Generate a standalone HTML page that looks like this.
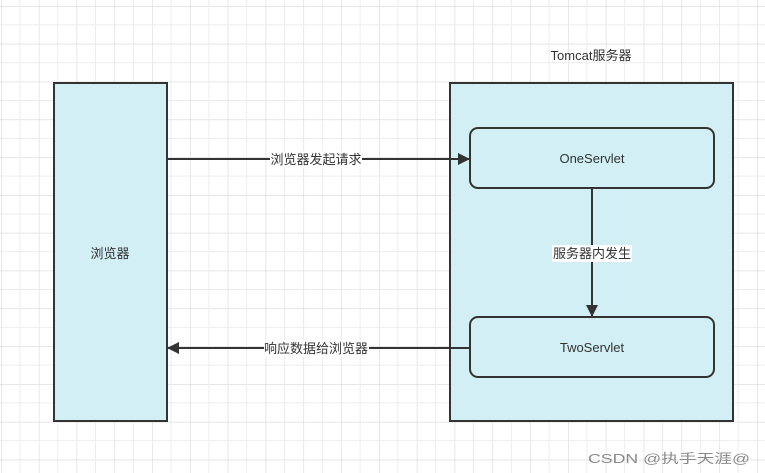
<!DOCTYPE html>
<html><head><meta charset="utf-8"><style>
html,body{margin:0;padding:0;background:#fff}
svg{display:block}
text{font-family:"Liberation Sans","Noto Sans CJK SC",sans-serif;font-size:13px;fill:#333}
</style></head><body>
<svg width="765" height="473" viewBox="0 0 765 473" xmlns="http://www.w3.org/2000/svg">
<defs>
<pattern id="g" x="1" y="6" width="37.8" height="37.8" patternUnits="userSpaceOnUse">
<path d="M0 0V37.8M0 0H37.8" stroke="#d8d8d8" stroke-width="1.2" fill="none"/>
<path d="M18.9 0V37.8M0 18.9H37.8" stroke="#ececec" stroke-width="1" fill="none"/>
</pattern>
<marker id="a" markerWidth="12" markerHeight="12" refX="11" refY="6" orient="auto" markerUnits="userSpaceOnUse">
<path d="M0 0L12 6L0 12Z" fill="#333"/>
</marker>
</defs>
<rect width="765" height="473" fill="url(#g)"/>
<rect x="54" y="83" width="113" height="338" fill="#d1eff4" stroke="#333" stroke-width="2"/>
<text x="110" y="258" text-anchor="middle">浏览器</text>
<rect x="450" y="83" width="283" height="338" fill="#d1eff4" stroke="#333" stroke-width="2"/>
<text x="591" y="60" text-anchor="middle">Tomcat服务器</text>
<rect x="470" y="128" width="244" height="60" rx="8" fill="#d1eff4" stroke="#333" stroke-width="2"/>
<text x="592" y="163" text-anchor="middle" font-size="14">OneServlet</text>
<rect x="470" y="317" width="244" height="60" rx="8" fill="#d1eff4" stroke="#333" stroke-width="2"/>
<text x="592" y="352" text-anchor="middle" font-size="14">TwoServlet</text>
<line x1="167" y1="159" x2="469" y2="159" stroke="#333" stroke-width="2" marker-end="url(#a)"/>
<rect x="270" y="151" width="92" height="17" fill="#fff"/>
<text x="316" y="164" text-anchor="middle">浏览器发起请求</text>
<line x1="592" y1="188" x2="592" y2="316" stroke="#333" stroke-width="2" marker-end="url(#a)"/>
<rect x="552" y="245" width="80" height="17" fill="#fff"/>
<text x="592" y="258" text-anchor="middle">服务器内发生</text>
<line x1="470" y1="348" x2="168" y2="348" stroke="#333" stroke-width="2" marker-end="url(#a)"/>
<rect x="264" y="340" width="105" height="17" fill="#fff"/>
<text x="316" y="353" text-anchor="middle">响应数据给浏览器</text>
<text x="588" y="463" font-size="19" textLength="162" lengthAdjust="spacingAndGlyphs" style="fill:#8a8a8a">CSDN @执手天涯@</text>
</svg>
</body></html>
